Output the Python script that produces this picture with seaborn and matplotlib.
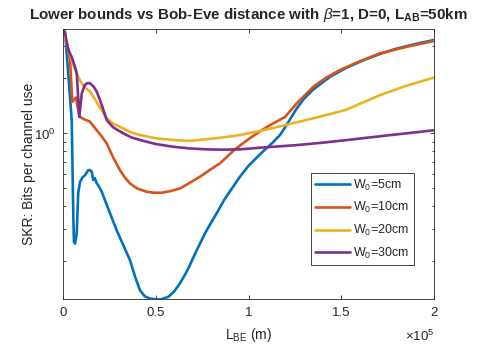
import numpy as np
import pandas as pd
import matplotlib
matplotlib.use("Agg")
import matplotlib.pyplot as plt
import matplotlib.ticker as mticker
import seaborn as sns

# ---- data (x in km, y in bits per channel use) ----
blue_x = [0, 1.1, 2.9, 4.7, 5.6, 5.9, 6.5, 7.4, 8.2, 9.2, 10.5, 11.9, 13.6, 14.5, 15.5, 16.3,
          17.1, 18.2, 19.9, 20.9, 22.6, 25.3, 28.9, 32.5, 36.1, 39, 41.5, 44, 47, 50, 53, 56.8,
          60, 63.1, 67, 72.1, 77, 82.9, 87, 91.6, 95.4, 100, 104, 108, 113, 117, 120, 126,
          130, 135, 144, 153, 162, 171, 180, 190, 200]
blue_y = [3.7, 3.59, 2.08, 1.18, 0.336, 0.256, 0.25, 0.285, 0.472, 0.544, 0.575, 0.592, 0.63,
          0.63, 0.617, 0.556, 0.57, 0.535, 0.502, 0.48, 0.432, 0.367, 0.296, 0.245, 0.203,
          0.163, 0.139, 0.129, 0.125, 0.124, 0.124, 0.128, 0.137, 0.152, 0.178, 0.23, 0.29,
          0.367, 0.435, 0.51, 0.58, 0.665, 0.73, 0.80, 0.89, 0.98, 1.09, 1.37, 1.55, 1.74,
          2.04, 2.29, 2.51, 2.72, 2.91, 3.08, 3.24]

orange_x = [0, 2, 3.8, 5, 7, 8.8, 11, 14.5, 18.2, 21, 23.6, 27, 30.7, 33, 36.1, 40, 45.1, 49,
            53.2, 58, 63.1, 68, 73.9, 79, 84.6, 92.7, 100, 107, 113, 119.7, 126, 135, 142,
            149.3, 160, 170.9, 185, 200]
orange_y = [3.7, 3.1, 2.52, 1.49, 1.57, 1.24, 1.2, 1.16, 1.04, 0.96, 0.88, 0.74, 0.63, 0.58,
            0.533, 0.5, 0.48, 0.474, 0.474, 0.484, 0.50, 0.535, 0.58, 0.63, 0.686, 0.818,
            0.93, 1.04, 1.13, 1.23, 1.46, 1.80, 2.02, 2.22, 2.48, 2.74, 2.97, 3.2]

yellow_x = [0, 1, 2, 3.5, 4.7, 6, 7.4, 9, 10.1, 12, 14.6, 17, 20, 23.6, 27, 32.5, 37, 41.5,
            50, 59.5, 68.5, 77.5, 86, 95.4, 108, 119.7, 135, 152, 160, 171, 185, 200]
yellow_y = [3.7, 3.35, 3.1, 2.75, 2.52, 2.3, 2.13, 1.96, 1.88, 1.78, 1.69, 1.55, 1.38, 1.21,
            1.13, 1.065, 1.01, 0.98, 0.94, 0.92, 0.91, 0.93, 0.95, 0.98, 1.04, 1.11, 1.21,
            1.34, 1.45, 1.62, 1.82, 2.02]

purple_x = [0, 1.1, 2.9, 4.7, 6.5, 7.4, 8.8, 10.1, 11.5, 12.8, 14.6, 16.5, 18.2, 21, 23.6, 27,
            32.5, 37, 41.5, 50, 59.5, 68, 77.5, 86, 95.4, 108, 126, 140, 153, 175, 200]
purple_y = [3.7, 3.52, 2.85, 2.62, 2.31, 2.13, 1.23, 1.65, 1.82, 1.88, 1.88, 1.8, 1.69, 1.42,
            1.18, 1.08, 1.0, 0.95, 0.92, 0.875, 0.845, 0.828, 0.818, 0.815, 0.818, 0.838,
            0.863, 0.89, 0.92, 0.975, 1.04]

series_labels = ["W$_0$=5cm", "W$_0$=10cm", "W$_0$=20cm", "W$_0$=30cm"]
colors = ["#0072BD", "#D95319", "#EDB120", "#7E2F8E"]
x_ticks = [0, 50000, 100000, 150000, 200000]
x_tick_labels = ["0", "0.5", "1", "1.5", "2"]

# ---- build long-form table ----
frames = []
for lab, xs, ys in zip(series_labels, [blue_x, orange_x, yellow_x, purple_x],
                       [blue_y, orange_y, yellow_y, purple_y]):
    frames.append(pd.DataFrame({"L": np.array(xs) * 1000.0, "SKR": ys, "series": lab}))
df = pd.concat(frames, ignore_index=True)

sns.set_style("ticks")
plt.rcParams["font.family"] = ["Liberation Sans", "DejaVu Sans"]
plt.rcParams["mathtext.fontset"] = "custom"
plt.rcParams["mathtext.rm"] = "Liberation Sans"
plt.rcParams["mathtext.it"] = "Liberation Sans:italic"
plt.rcParams["mathtext.bf"] = "Liberation Sans:bold"

fig = plt.figure(figsize=(4.8, 3.49), dpi=100)
ax = fig.add_axes([63 / 480, 1 - 299.3 / 349, (434 - 63) / 480, (299.3 - 29) / 349])

sns.lineplot(data=df, x="L", y="SKR", hue="series", palette=colors, hue_order=series_labels,
             estimator=None, sort=False, units="series", linewidth=1.9, ax=ax)

ax.set_yscale("log")
ax.set_xlim(0, 200000)
ax.set_ylim(0.124, 3.72)

ax.set_xticks(x_ticks)
ax.set_xticklabels(x_tick_labels)
ax.yaxis.set_major_locator(mticker.FixedLocator([1.0]))
ax.yaxis.set_major_formatter(mticker.FixedFormatter(["10$^0$"]))
ax.yaxis.set_minor_locator(mticker.LogLocator(base=10, subs=np.arange(2, 10), numticks=20))
ax.yaxis.set_minor_formatter(mticker.NullFormatter())

axcol = "#262626"
for sp in ax.spines.values():
    sp.set_visible(True)
    sp.set_color(axcol)
    sp.set_linewidth(0.6)
ax.tick_params(which="both", direction="in", top=True, right=True, colors=axcol,
               labelsize=9.5, width=0.6)
ax.tick_params(which="major", length=3.0, pad=5.5)
ax.tick_params(which="minor", length=1.8)

ax.set_xlabel("L$_{\\mathrm{BE}}$ (m)", fontsize=10, color=axcol, labelpad=5)
ax.set_ylabel("SKR: Bits per channel use", fontsize=10, color=axcol, labelpad=-1.5)
ax.set_title("Lower bounds vs Bob-Eve distance with $\\mathit{\\beta}$=1, D=0, L$_{\\mathbf{AB}}$=50km",
             fontsize=10.9, fontweight="bold", pad=7)
ax.text(1.0, -0.11, "\u00d710$^5$", transform=ax.transAxes, ha="right", va="top",
        fontsize=9.5, color=axcol)

leg = ax.legend(loc="upper left", bbox_to_anchor=(0.668, 0.466), fontsize=9, frameon=True,
                fancybox=False, edgecolor=axcol, framealpha=1, handlelength=2.8,
                handletextpad=0.25, borderpad=0.35, labelspacing=0.6, borderaxespad=0)
leg.get_frame().set_linewidth(0.6)

fig.savefig("out.png", dpi=100)
